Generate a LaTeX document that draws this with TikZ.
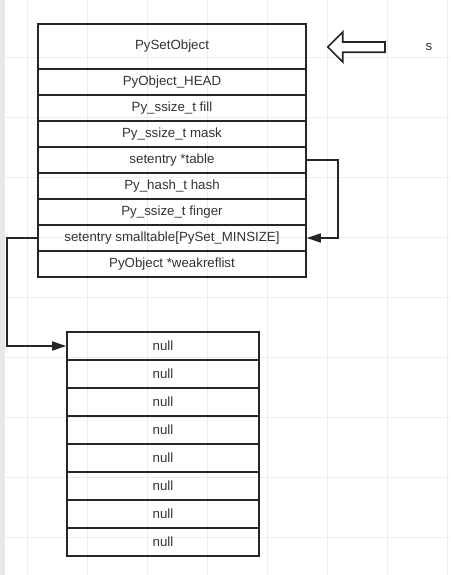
\documentclass[tikz,border=0pt]{standalone}
\usepackage{fontspec}
\setmainfont{Liberation Sans}
\usetikzlibrary{arrows.meta}
\definecolor{gridc}{HTML}{EDEDED}
\definecolor{linec}{HTML}{262626}
\definecolor{txtc}{HTML}{333333}
\begin{document}
\begin{tikzpicture}[x=1pt,y=-1pt,
  field/.style={draw=linec,line width=1.6pt,minimum width=268pt,minimum height=26pt,
    inner sep=0pt,font=\fontsize{13.3}{15}\selectfont,text=txtc},
  nullbox/.style={draw=linec,line width=1.6pt,minimum width=192pt,minimum height=28pt,
    inner sep=0pt,font=\fontsize{13.3}{15}\selectfont,text=txtc},
  conn/.style={draw=linec,line width=1.6pt},
  tipc/.style={-{Triangle[length=14pt,width=9pt]}}]
\useasboundingbox (0,0) rectangle (450,575);
\fill[white] (0,0) rectangle (450,575);
% grid
\foreach \gx in {27,87,...,447} \draw[gridc,line width=0.8pt] (\gx,0) -- (\gx,575);
\foreach \gy in {57,117,...,575} \draw[gridc,line width=0.8pt] (5,\gy) -- (450,\gy);
\fill[gray!18] (0,0) rectangle (5,575);
% main struct
\node[field,minimum height=45pt] (head) at (172,46.5) {PySetObject};
\node[field] (ohead) at (172,82) {PyObject\_HEAD};
\node[field] (fill) at (172,108) {Py\_ssize\_t fill};
\node[field] (mask) at (172,134) {Py\_ssize\_t mask};
\node[field] (table) at (172,160) {setentry *table};
\node[field] (hash) at (172,186) {Py\_hash\_t hash};
\node[field] (finger) at (172,212) {Py\_ssize\_t finger};
\node[field] (small) at (172,238) {setentry smalltable[PySet\_MINSIZE]};
\node[field] (weak) at (172,264) {PyObject *weakreflist};
% null table
\foreach \i in {1,...,8} {
  \node[nullbox] (n\i) at (163,{346+28*(\i-1)}) {null};
}
% connectors
\draw[conn,tipc] (table.east) -- ++(31,0) |- (small.east);
\draw[conn,tipc] (small.west) -- ++(-30,0) |- (n1.west);
% hollow arrow
\draw[linec,line width=1.6pt,line join=miter] (385,42) -- (342.7,42) -- (342.7,32) -- (327.7,47)
  -- (342.7,62) -- (342.7,52.3) -- (385,52.3) -- cycle;
\node[font=\fontsize{13.3}{15}\selectfont,text=txtc] (s) at (429,47) {s};
\end{tikzpicture}
\end{document}
